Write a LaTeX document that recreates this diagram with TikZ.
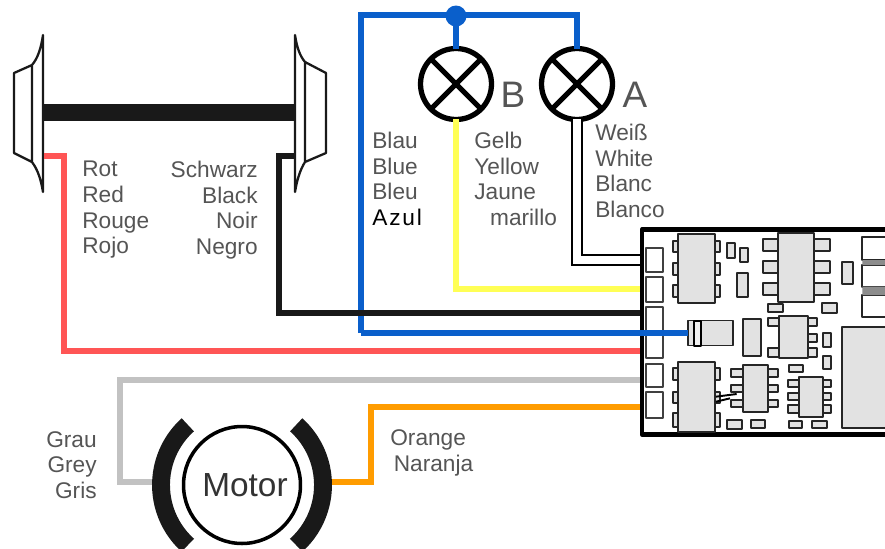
\documentclass[tikz,border=0pt]{standalone}
\usepackage{fontspec}
\setmainfont{Liberation Sans}
\definecolor{wirered}{HTML}{FF5555}
\definecolor{wireblue}{HTML}{0A5FCB}
\definecolor{wireyellow}{HTML}{FFFF55}
\definecolor{wiregrey}{HTML}{C2C2C2}
\definecolor{wireorange}{HTML}{FF9C00}
\definecolor{labelgrey}{HTML}{555555}
\definecolor{partgrey}{HTML}{E2E2E2}
\begin{document}
\begin{tikzpicture}[x=.02cm,y=-.02cm,line join=round,
    wire/.style={line width=3.5pt,line join=miter},
    lamp/.style={draw,circle,line width=3pt,minimum size=1.42cm,inner sep=0pt,outer sep=0pt},
    part/.style={draw=black!85,fill=partgrey,line width=1.1pt},
    padbox/.style={draw=black!75,fill=white,line width=1pt,minimum width=.34cm,inner sep=0pt,outer sep=0pt},
    wheel/.style={draw=black!90,fill=white,line width=1.3pt},
    lbl/.style={text=labelgrey,inner sep=0pt,font=\fontsize{12.9}{14.6}\selectfont},
    big/.style={text=labelgrey,inner sep=0pt,font=\fontsize{21}{21}\selectfont}]
    \clip (0,0) rectangle (885,548);
    \fill[white] (0,0) rectangle (885,548);

    \draw[wheel]
    (43,35)..controls(41,48) and (38,58)..(32,65)--(14,73)--(14,153)--(32,162)..controls(38,170) and (41,180)..(43,192)--cycle
    (32,65)--(32,162)
    (295,35)..controls(297,48) and (300,56)..(305,62)--(326,73)--(326,153)--(305,162)..controls(300,170) and (297,180)..(295,192)--cycle
    (305,62)--(305,162);
    \fill[black!90] (43,104) rectangle (295,121);
    \coordinate (wheelL) at (44,156);
    \coordinate (wheelR) at (295,156);
    \coordinate (pinW) at (640,260);
    \coordinate (pinY) at (640,289);
    \coordinate (pinK) at (640,313);
    \coordinate (pinR) at (640,351);
    \coordinate (pinG) at (640,380);
    \coordinate (pinO) at (640,407);

    \node[lamp] (lampB) at (456,84) {};
    \node[lamp] (lampA) at (577,84) {};
    \draw[line width=3pt] (lampB.45)--(lampB.225) (lampB.135)--(lampB.315)
    (lampA.45)--(lampA.225) (lampA.135)--(lampA.315);
    \node[big,anchor=base] (nameB) at (513,107) {B};
    \node[big,anchor=base] (nameA) at (635,107) {A};

    \node[draw,circle,line width=2pt,minimum size=2.34cm,inner sep=0pt,outer sep=0pt,
    font=\fontsize{19}{19}\selectfont,text=black!80] (motor) at (242,485) {\hspace*{3.4pt}Motor};
    \draw[line width=10.2pt,black!90] (242,485)++(132:81) arc[start angle=132,end angle=228,radius=81];
    \draw[line width=10.2pt,black!90] (242,485)++(48:81) arc[start angle=48,end angle=-48,radius=81];
    \coordinate (poleL) at (152,482);
    \coordinate (poleR) at (332,482);

    \node[draw,line width=2.8pt,fill=white,minimum width=5.4cm,minimum height=4.1cm,inner sep=0pt,outer sep=0pt] (board) at (777,332) {};
    \foreach \n/\y/\h in {1/260/.48,2/289.5/.5,3/321/.56,4/346.5/.46,5/375.5/.46,6/405/.52}
    \node[padbox,minimum height=\h cm] (pad\n) at (654.5,\y) {};

    \begin{scope}[shift={(630,220)},scale=1/3]
        \foreach \xa/\xb/\ya/\yb in {128/270/62/95,128/270/130/165,128/270/195/232,
            128/270/445/480,128/270/515/550,128/270/580/620,
            400/600/58/92,400/600/122/160,400/600/188/225,
            415/562/295/318,415/562/385/410,450/562/342/365,
            303/445/448/472,303/445/495/515,303/445/540/562,
            475/602/480/500,475/602/518/540,475/602/555/578}
        \draw[part] (\xa,\ya) rectangle (\xb,\yb);
        \foreach \xa/\xb/\ya/\yb in {145/255/42/250,145/255/425/635,445/552/40/245,447/533/287/415,
            338/415/435/575,508/578/470/590,637/775/322/625,
            338/392/297/408,290/315/70/115,330/353/85/125,320/353/160/232,637/668/125/192,
            415/460/252/275,575/620/250/278,580/602/340/380,580/602/408/448,
            478/518/435/455,290/335/600/628,362/405/600/625,478/515/602/625,545/590/602/625}
        \draw[part] (\xa,\ya) rectangle (\xb,\yb);
        \foreach \ya/\yb in {50/120,135/200,225/292}
        \draw[draw=black!85,fill=white,line width=1.1pt] (697,\ya) rectangle (780,\yb);
        \fill[black!45] (697,120) rectangle (780,135) (697,200) rectangle (780,225);
        \draw[line width=1.1pt] (258,530)--(320,522) (258,545)--(300,535);
    \end{scope}
    \node[part,minimum width=.89cm,minimum height=.5cm,inner sep=0pt,outer sep=0pt] (diode) at (710.5,333) {};
    \draw[line width=.8pt,fill=partgrey!50] (694,321) rectangle (701,346);

    \draw[wire,wirered] (wheelL)-|(64,351)--(pinR);
    \draw[wire,wiregrey] (poleL)-|(120,380)--(pinG);
    \draw[wire,wireorange] (poleR)-|(371,407)--(pinO);
    \draw[wire,wireblue] (361,333)--(361,15)--(577,15)--(lampA.north);
    \draw[wire,wireblue] (456,15)--(lampB.north);
    \node[fill=wireblue,circle,minimum size=.42cm,inner sep=0pt] (join) at (456,16) {};
    \draw[wire,wireblue] (361,333)--(diode.west);
    \draw[wire,black!90] (wheelR)-|(279,313)--(pinK);
    \draw[wire,wireyellow] (lampB.south)|-(pinY);
    \draw[draw=black,double=white,line width=1.1pt,double distance=4.2pt,line join=miter] (lampA.south)|-(pinW);

    \node[lbl,anchor=west,align=left] (redtext) at (82,210) {Rot\\Red\\Rouge\\Rojo};
    \node[lbl,anchor=east,align=right] (blacktext) at (258,210) {Schwarz\\Black\\Noir\\Negro};
    \node[lbl,anchor=west,align=left] (bluetext) at (372,179) {Blau\\Blue\\Bleu\\\textcolor{black}{\addfontfeature{LetterSpace=8}Azul}};
    \node[lbl,anchor=west,align=left] (yellowtext) at (474,179) {Gelb\\Yellow\\Jaune\\\hspace*{9pt}marillo};
    \node[lbl,anchor=west,align=left] (whitetext) at (595,171) {Wei\ss\\White\\Blanc\\Blanco};
    \node[lbl,anchor=east,align=right] (greytext) at (97,465) {Grau\\Grey\\Gris};
    \node[lbl,anchor=west,align=left] (orangetext) at (390,453) {Orange\\\hspace*{2pt}Naranja};
\end{tikzpicture}
\end{document}
